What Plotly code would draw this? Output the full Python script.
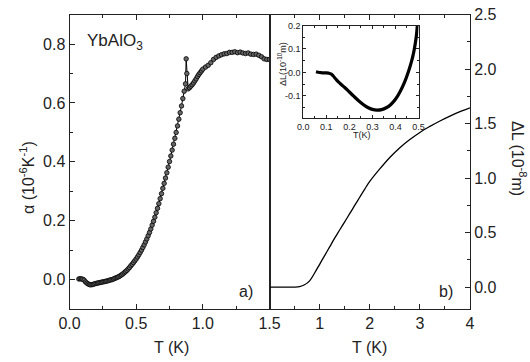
import plotly.graph_objects as go

# Panel a) thermal expansion alpha (10^-6 K^-1) vs T (K)
T_a = [0.07, 0.08, 0.09, 0.10, 0.11, 0.12, 0.13, 0.14, 0.15, 0.16, 0.17, 0.18, 0.19, 0.20,
       0.21, 0.22, 0.23, 0.24, 0.25, 0.26, 0.27, 0.28, 0.29, 0.30, 0.31, 0.32, 0.33, 0.34,
       0.35, 0.36, 0.37, 0.38, 0.39, 0.40, 0.41, 0.42, 0.43, 0.44, 0.45, 0.46, 0.47, 0.48,
       0.49, 0.50, 0.51, 0.52, 0.53, 0.54, 0.55, 0.56, 0.57, 0.58, 0.59, 0.60, 0.61, 0.62,
       0.63, 0.64, 0.65, 0.66, 0.67, 0.68, 0.69, 0.70, 0.71, 0.72, 0.73, 0.74, 0.75, 0.76,
       0.77, 0.78, 0.79, 0.80, 0.81, 0.82, 0.83, 0.84, 0.85, 0.86, 0.87, 0.875, 0.88, 0.89,
       0.90, 0.91, 0.92, 0.93, 0.94, 0.95, 0.96, 0.97, 0.98, 0.99, 1.00, 1.02, 1.04, 1.06,
       1.08, 1.10, 1.12, 1.14, 1.16, 1.18, 1.20, 1.22, 1.24, 1.26, 1.28, 1.30, 1.32, 1.34,
       1.36, 1.38, 1.40, 1.42, 1.44, 1.46, 1.48, 1.50]
alpha = [0.002, 0.003, 0.002, 0.001, -0.002, -0.008, -0.012, -0.015, -0.017, -0.018, -0.017,
         -0.016, -0.014, -0.013, -0.012, -0.011, -0.010, -0.009, -0.008, -0.007, -0.006,
         -0.005, -0.004, -0.002, -0.001, 0.000, 0.002, 0.004, 0.006, 0.008, 0.010, 0.013,
         0.016, 0.019, 0.023, 0.027, 0.031, 0.036, 0.041, 0.047, 0.052, 0.058, 0.064, 0.070,
         0.077, 0.084, 0.092, 0.100, 0.109, 0.118, 0.128, 0.138, 0.149, 0.160, 0.172, 0.185,
         0.198, 0.212, 0.227, 0.242, 0.258, 0.275, 0.292, 0.310, 0.327, 0.345, 0.363, 0.382,
         0.401, 0.420, 0.440, 0.460, 0.480, 0.500, 0.522, 0.545, 0.567, 0.590, 0.615, 0.640,
         0.665, 0.750, 0.700, 0.648, 0.652, 0.657, 0.662, 0.668, 0.675, 0.682, 0.690, 0.697,
         0.703, 0.709, 0.715, 0.722, 0.728, 0.737, 0.748, 0.755, 0.760, 0.764, 0.767, 0.768,
         0.772, 0.772, 0.774, 0.771, 0.773, 0.770, 0.768, 0.770, 0.766, 0.765, 0.766, 0.762,
         0.757, 0.750, 0.748, 0.748]

# Panel b) length change dL (10^-8 m) vs T (K)
T_b = [0.0, 0.2, 0.4, 0.5, 0.6, 0.7, 0.8, 0.9, 1.0, 1.1, 1.2, 1.3, 1.4, 1.5, 1.6, 1.7, 1.8,
       1.9, 2.0, 2.2, 2.4, 2.6, 2.8, 3.0, 3.2, 3.4, 3.6, 3.8, 4.0]
dL = [0.0, 0.0, 0.0, 0.001, 0.006, 0.022, 0.058, 0.13, 0.21, 0.29, 0.37, 0.45, 0.525, 0.60,
      0.675, 0.75, 0.825, 0.90, 0.97, 1.085, 1.19, 1.28, 1.355, 1.42, 1.475, 1.525, 1.57,
      1.61, 1.645]

# Inset: dL (10^-10 m) vs T (K), low temperature
T_in = [0.055, 0.07, 0.08, 0.09, 0.10, 0.11, 0.12, 0.13, 0.14, 0.15, 0.16, 0.18, 0.20, 0.22,
        0.24, 0.26, 0.28, 0.30, 0.32, 0.34, 0.36, 0.38, 0.40, 0.42, 0.44, 0.46, 0.47, 0.48,
        0.49, 0.495]
dL_in = [0.003, 0.0, -0.001, -0.002, -0.002, -0.003, -0.006, -0.015, -0.027, -0.038, -0.047,
         -0.064, -0.083, -0.102, -0.120, -0.136, -0.149, -0.157, -0.160, -0.158, -0.150,
         -0.136, -0.114, -0.082, -0.040, 0.015, 0.048, 0.09, 0.15, 0.20]

W, H = 530, 362
FONT = "Arial, Liberation Sans, sans-serif"
AX = "#222222"
TXT = "#222222"


def px(x):
    return x / W


def py(y):
    return 1 - y / H


fig = go.Figure()
fig.add_trace(go.Scatter(x=T_a, y=alpha, mode="lines+markers", xaxis="x", yaxis="y",
                         line=dict(color="black", width=1),
                         marker=dict(symbol="circle", size=4.5, color="#666666",
                                     line=dict(color="black", width=0.8)),
                         showlegend=False))
fig.add_trace(go.Scatter(x=T_b, y=dL, mode="lines", xaxis="x2", yaxis="y2",
                         line=dict(color="black", width=1.3, shape="spline"), showlegend=False))
fig.add_trace(go.Scatter(x=T_in, y=dL_in, mode="lines", xaxis="x3", yaxis="y3",
                         line=dict(color="black", width=3.2, shape="spline"), showlegend=False))

ydom = [py(309), py(14.7)]
common = dict(showline=True, linecolor=AX, linewidth=1, showgrid=False, zeroline=False,
              ticks="inside", tickcolor=AX, tickwidth=1, automargin=False,
              tickfont=dict(family=FONT, size=16, color=TXT))
inset_common = dict(showline=True, linecolor=AX, linewidth=1, showgrid=False, zeroline=False,
                    ticks="inside", tickcolor=AX, ticklen=3, mirror="ticks", automargin=False,
                    tickfont=dict(family=FONT, size=9, color=TXT))

fig.update_layout(
    template="none",
    width=W, height=H, margin=dict(l=0, r=0, t=0, b=0, pad=0, autoexpand=False),
    paper_bgcolor="white", plot_bgcolor="white",
    xaxis=dict(domain=[px(69.5), px(269.5)], range=[0, 1.5], anchor="y",
               tickmode="array", tickvals=[0, 0.5, 1.0, 1.5],
               ticktext=["0.0", "0.5", "1.0", "1.5"], ticklen=5, mirror="ticks",
               minor=dict(tickvals=[0.25, 0.75, 1.25], ticklen=3, ticks="inside",
                          tickcolor=AX), **common),
    yaxis=dict(domain=ydom, range=[-0.1, 0.9], anchor="x",
               tickmode="array", tickvals=[0, 0.2, 0.4, 0.6, 0.8],
               ticktext=["0.0", "0.2", "0.4", "0.6", "0.8"], ticklen=5, mirror=True,
               minor=dict(tickvals=[-0.1, 0.1, 0.3, 0.5, 0.7, 0.9], ticklen=3, ticks="inside",
                          tickcolor=AX), **common),
    xaxis2=dict(domain=[px(269.5), px(470)], range=[0, 4], anchor="y2",
                tickmode="array", tickvals=[1, 2, 3, 4], ticklen=5, mirror="ticks",
                minor=dict(tickvals=[0.5, 1.5, 2.5, 3.5], ticklen=3, ticks="inside",
                           tickcolor=AX), **common),
    yaxis2=dict(domain=ydom, range=[-0.2, 2.5], anchor="x2", side="right",
                tickmode="array", tickvals=[0, 0.5, 1.0, 1.5, 2.0, 2.5],
                ticktext=["0.0", "0.5", "1.0", "1.5", "2.0", "2.5"], ticklen=5, mirror=True,
                minor=dict(tickvals=[0.25, 0.75, 1.25, 1.75, 2.25], ticklen=3, ticks="inside",
                           tickcolor=AX), **common),
    xaxis3=dict(domain=[px(303.3), px(418.5)], range=[0, 0.5], anchor="y3",
                tickmode="array", tickvals=[0, 0.1, 0.2, 0.3, 0.4, 0.5],
                ticktext=["0.0", "0.1", "0.2", "0.3", "0.4", "0.5"],
                minor=dict(tickvals=[0.05, 0.15, 0.25, 0.35, 0.45], ticklen=2, ticks="inside",
                           tickcolor=AX), **inset_common),
    yaxis3=dict(domain=[py(118.3), py(25.5)], range=[-0.195, 0.2], anchor="x3",
                tickmode="array", tickvals=[-0.1, 0.0, 0.1, 0.2],
                ticktext=["-0.1", "0.0", "0.1", "0.2"],
                minor=dict(tickvals=[-0.15, -0.05, 0.05, 0.15], ticklen=2, ticks="inside",
                           tickcolor=AX), **inset_common),
)

ann = [
    dict(text="YbAlO<sub>3</sub>", x=px(85), y=py(42), xanchor="left", yanchor="middle",
         font=dict(family=FONT, size=17, color=TXT)),
    dict(text="a)", x=px(246), y=py(291), xanchor="center", yanchor="middle",
         font=dict(family=FONT, size=16, color=TXT)),
    dict(text="b)", x=px(446), y=py(291), xanchor="center", yanchor="middle",
         font=dict(family=FONT, size=16, color=TXT)),
    dict(text="T (K)", x=px(171), y=py(347), xanchor="center", yanchor="middle",
         font=dict(family=FONT, size=16, color=TXT)),
    dict(text="T (K)", x=px(369), y=py(347), xanchor="center", yanchor="middle",
         font=dict(family=FONT, size=16, color=TXT)),
    dict(text="α (10<sup>-6</sup>K<sup>-1</sup>)", x=px(27), y=py(178), textangle=-90,
         xanchor="center", yanchor="middle",
         font=dict(family=FONT, size=16, color=TXT)),
    dict(text="ΔL (10<sup>-8</sup>m)", x=px(519), y=py(158), textangle=90,
         xanchor="center", yanchor="middle",
         font=dict(family=FONT, size=16, color=TXT)),
    dict(text="T(K)", x=px(362), y=py(135), xanchor="center", yanchor="middle",
         font=dict(family=FONT, size=9, color=TXT)),
    dict(text="ΔL(10<sup>-10</sup>m)", x=px(282), y=py(64), textangle=-90,
         xanchor="center", yanchor="middle",
         font=dict(family=FONT, size=9, color=TXT)),
]
for a in ann:
    a.update(xref="paper", yref="paper", showarrow=False)
fig.update_layout(annotations=ann)

fig.write_html("out.html", config={"displayModeBar": False},
               post_script="document.body.style.margin='0';document.body.style.overflow='hidden';")
